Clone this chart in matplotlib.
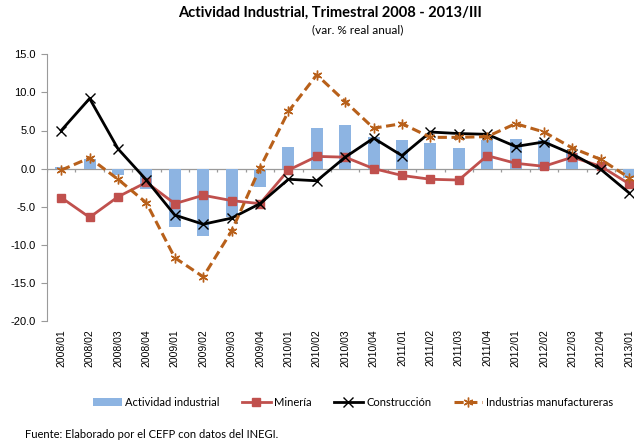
import numpy as np
import matplotlib.pyplot as plt

plt.rcParams['font.family'] = ['Lato', 'DejaVu Sans']

periodos = ['2008/01', '2008/02', '2008/03', '2008/04',
            '2009/01', '2009/02', '2009/03', '2009/04',
            '2010/01', '2010/02', '2010/03', '2010/04',
            '2011/01', '2011/02', '2011/03', '2011/04',
            '2012/01', '2012/02', '2012/03', '2012/04',
            '2013/01']

actividad = [0.2, 1.2, -0.8, -2.7, -7.6, -8.9, -6.4, -2.4, 2.9, 5.3, 5.7,
             4.1, 3.7, 3.3, 2.7, 3.7, 3.9, 3.7, 2.0, 0.2, -1.2]
mineria = [-3.8, -6.4, -3.7, -1.8, -4.6, -3.5, -4.2, -4.6, -0.2, 1.6, 1.5,
           0.0, -0.9, -1.4, -1.5, 1.7, 0.7, 0.3, 1.5, 0.3, -2.0]
construccion = [5.0, 9.2, 2.6, -1.5, -6.1, -7.3, -6.5, -4.6, -1.4, -1.6, 1.5,
                4.0, 1.7, 4.8, 4.6, 4.5, 2.9, 3.5, 1.9, -0.1, -3.2]
manufacturas = [-0.2, 1.4, -1.4, -4.5, -11.7, -14.2, -8.2, 0.1, 7.5, 12.3, 8.8,
                5.3, 5.9, 4.1, 4.1, 4.2, 5.9, 4.8, 2.7, 1.2, -1.2]

x = np.arange(len(periodos))

fig = plt.figure(figsize=(6.34, 4.42), dpi=100)
ax = fig.add_axes([47 / 634, 121 / 442, 23 * 28.4 / 634, 266.7 / 442])

h_bar = ax.bar(x, actividad, width=0.42, color='#8DB4E2', label='Actividad industrial', zorder=2)
h_min, = ax.plot(x, mineria, color='#C0504D', lw=2.0, marker='s', ms=6, label='Minería', zorder=3)
h_con, = ax.plot(x, construccion, color='black', lw=2.0, marker='x', ms=7, mew=1.0,
                 label='Construcción', zorder=4)
h_man, = ax.plot(x, manufacturas, color='#B8601A', lw=2.2, ls=(0, (3, 1.5)), marker=(6, 2, 0),
                 ms=7, mew=1.0, label='Industrias manufactureras', zorder=5)

# eje de categorías en cero
ax.axhline(0, color='#9A9A9A', lw=0.9, zorder=1)
ax.vlines(np.arange(len(periodos) + 2) - 0.5, -0.45, 0, color='#9A9A9A', lw=0.9, zorder=1)

ax.set_xlim(-0.5, 22.5)
ax.set_ylim(-20, 15)
ax.set_yticks(np.arange(-20, 16, 5))
ax.set_yticklabels([f'{v:.1f}' for v in np.arange(-20, 16, 5)], fontsize=8,
                   family=['Liberation Sans'])
ax.set_xticks(x)
ax.set_xticklabels(periodos, rotation=90, fontsize=7.5, family=['Liberation Sans'])
ax.tick_params(axis='x', length=0, pad=6)
ax.tick_params(axis='y', length=4, color='#9A9A9A', pad=4)

for s in ['top', 'right', 'bottom']:
    ax.spines[s].set_visible(False)
ax.spines['left'].set_color('#9A9A9A')

fig.text(330 / 634, 1 - 13 / 442, 'Actividad Industrial, Trimestral 2008 - 2013/III',
         ha='center', va='center', fontsize=10.5, fontweight='bold')
fig.text(358 / 634, 1 - 30 / 442, '(var. % real anual)', ha='center', va='center',
         fontsize=8.5)

fig.legend([h_bar, h_min, h_con, h_man],
           ['Actividad industrial', 'Minería', 'Construcción', 'Industrias manufactureras'],
           loc='center left', bbox_to_anchor=(93 / 634, 1 - 402 / 442),
           ncol=4, frameon=False, fontsize=8, handlelength=2.6, columnspacing=2.0,
           handletextpad=0.3, borderpad=0, borderaxespad=0)

fig.text(25 / 634, 1 - 434 / 442, 'Fuente: Elaborado por el CEFP con datos del INEGI.',
         ha='left', va='center', fontsize=8)

fig.savefig('out.png', dpi=100)
